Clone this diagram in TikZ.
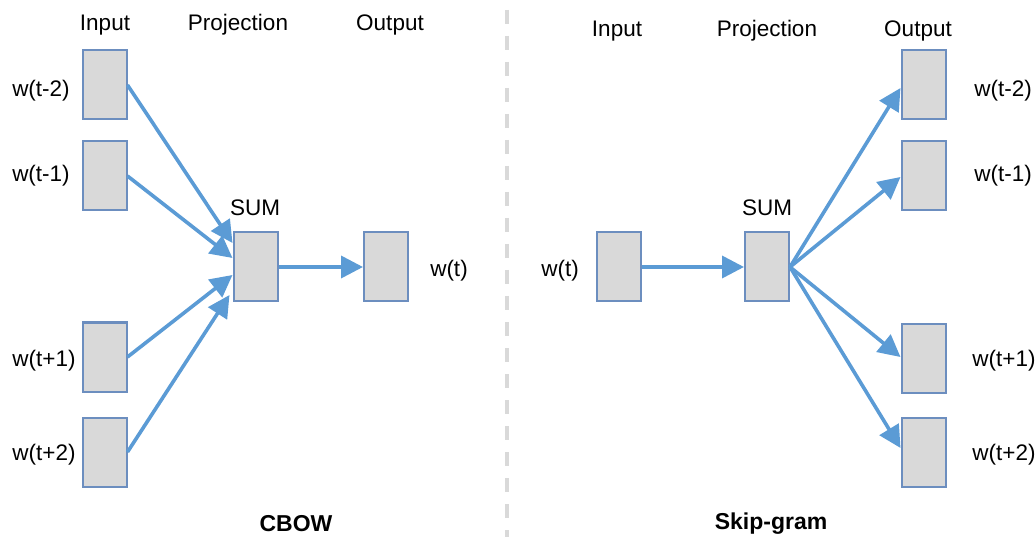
\documentclass[tikz,border=0pt]{standalone}
\usepackage{fontspec}
\setmainfont{Liberation Sans}
\usetikzlibrary{arrows.meta}
\definecolor{boxfill}{HTML}{D9D9D9}
\definecolor{boxline}{HTML}{6C8EBF}
\definecolor{arrowblue}{HTML}{5B9BD5}
\definecolor{sepgray}{HTML}{D9D9D9}
\tikzset{
  wbox/.style={draw=boxline, line width=2pt, fill=boxfill, minimum width=44pt, minimum height=69pt, inner sep=0pt},
  lbl/.style={font=\fontsize{22.5}{26}\selectfont, inner sep=0pt},
  ttl/.style={font=\fontsize{23}{26}\selectfont\bfseries, inner sep=0pt},
  conn/.style={draw=arrowblue, line width=3.6pt, -{Triangle[length=22pt,width=22pt]}}
}
\begin{document}
\begin{tikzpicture}[x=1pt,y=-1pt]
\useasboundingbox (0,0) rectangle (1036,537);
% separator
\draw[sepgray, line width=4pt, dash pattern=on 14pt off 12pt] (507,10) -- (507,537);

% ---------------- CBOW ----------------
\node[lbl] (cin) at (105,25) {Input};
\node[lbl] (cproj) at (238,25) {Projection};
\node[lbl] (cout) at (390,25) {Output};

\node[wbox] (i1) at (104.5,85) {};
\node[wbox] (i2) at (104.5,176) {};
\node[wbox] (i3) at (104.5,357) {};
\node[wbox] (i4) at (104.5,452) {};
\node[wbox] (csum) at (255.5,267) {};
\node[wbox] (cw) at (386,267) {};

\node[lbl] (li1) at (41,91) {w(t-2)};
\node[lbl] (li2) at (41,176) {w(t-1)};
\node[lbl] (li3) at (44,361) {w(t+1)};
\node[lbl] (li4) at (44,455) {w(t+2)};
\node[lbl] (csuml) at (255,208) {SUM};
\node[lbl] (cwl) at (449,271) {w(t)};

\draw[conn] (i1.east) -- ([yshift=24pt]csum.west);
\draw[conn] (i2.east) -- ([yshift=9pt]csum.west);
\draw[conn] (i3.east) -- ([yshift=-8pt]csum.west);
\draw[conn] (i4.east) -- ([xshift=-3pt,yshift=-28pt]csum.west);
\draw[conn] (csum.east) -- (cw.west);

\node[ttl] (cbow) at (296,524) {CBOW};

% ---------------- Skip-gram ----------------
\node[lbl] (sin) at (617,31) {Input};
\node[lbl] (sproj) at (767,31) {Projection};
\node[lbl] (sout) at (918,31) {Output};

\node[wbox] (sw) at (618.5,267) {};
\node[wbox] (ssum) at (767,267) {};
\node[wbox] (o1) at (923.5,85) {};
\node[wbox] (o2) at (923.5,176) {};
\node[wbox] (o3) at (923.5,358) {};
\node[wbox] (o4) at (923.5,452) {};

\node[lbl] (swl) at (560,271) {w(t)};
\node[lbl] (ssuml) at (767,208) {SUM};
\node[lbl] (lo1) at (1003,91) {w(t-2)};
\node[lbl] (lo2) at (1003,176) {w(t-1)};
\node[lbl] (lo3) at (1004,361) {w(t+1)};
\node[lbl] (lo4) at (1004,455) {w(t+2)};

\draw[conn] (sw.east) -- (ssum.west);
\draw[conn] (ssum.east) -- ([yshift=-3pt]o1.west);
\draw[conn] (ssum.east) -- ([yshift=-1pt]o2.west);
\draw[conn] (ssum.east) -- ([yshift=1pt]o3.west);
\draw[conn] (ssum.east) -- ([yshift=4pt]o4.west);

\node[ttl] (skip) at (771,524) {Skip-gram};
\end{tikzpicture}
\end{document}
